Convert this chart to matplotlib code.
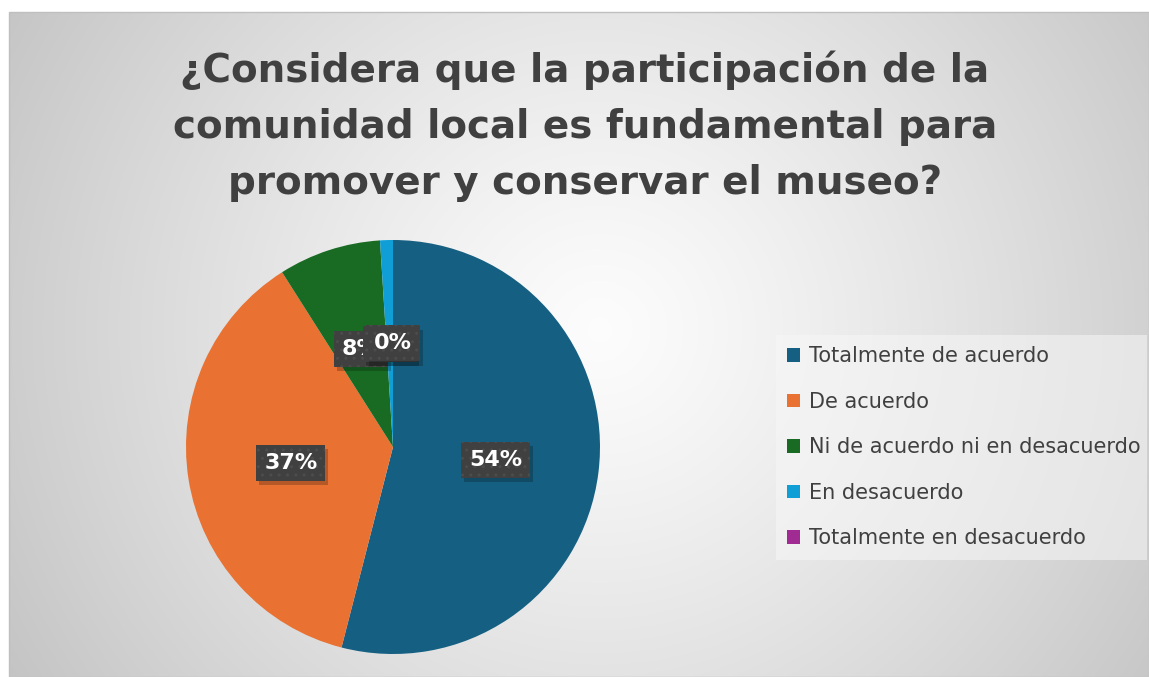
import numpy as np
import matplotlib
matplotlib.use("Agg")
import matplotlib.pyplot as plt
from matplotlib.patches import Patch, Rectangle
import matplotlib.patheffects as pe

categories = ["Totalmente de acuerdo", "De acuerdo", "Ni de acuerdo ni en desacuerdo",
              "En desacuerdo", "Totalmente en desacuerdo"]
percentages = [54, 37, 8, 1, 0]
colors = ["#156082", "#E97132", "#196B24", "#0F9ED5", "#A02B93"]
title = "¿Considera que la participación de la\ncomunidad local es fundamental para\npromover y conservar el museo?"


class NoHatchShadow(pe.SimplePatchShadow):
    def draw_path(self, renderer, gc, tpath, affine, rgbFace):
        h = gc.get_hatch()
        gc.set_hatch(None)
        super().draw_path(renderer, gc, tpath, affine, rgbFace)
        gc.set_hatch(h)


W, H = 1149, 677
fig = plt.figure(figsize=(W / 100, H / 100), dpi=100)
fig.patch.set_facecolor("white")

# background radial gradient panel
bg = fig.add_axes([0, 0, 1, 1])
bg.set_xlim(0, W)
bg.set_ylim(H, 0)
bg.axis("off")
x0, x1, y0, y1 = 9, 1149, 12, 677
xx, yy = np.meshgrid(np.linspace(x0, x1, 400), np.linspace(y0, y1, 240))
cx, cy = 600, 330
d = np.sqrt(((xx - cx) / (x1 - x0) * 1.0) ** 2 + ((yy - cy) / (y1 - y0) * 0.6) ** 2)
d = d / d.max()
v = 0.99 - 0.22 * d ** 1.2
img = np.dstack([v, v, v])
bg.imshow(img, extent=[x0, x1, y1, y0], aspect="auto", interpolation="bilinear", zorder=0)
bg.add_patch(Rectangle((x0, y0), x1 - x0, y1 - y0, fill=False, edgecolor="#bfbfbf", lw=1.0, zorder=1))

fig.text(585 / W, 1 - 126 / H, title, ha="center", va="center", fontsize=28,
         fontweight="bold", color="#404040", family="DejaVu Sans", linespacing=1.6)

# pie
R, pcx, pcy = 207, 393, 447
ax = fig.add_axes([(pcx - R) / W, (H - pcy - R) / H, 2 * R / W, 2 * R / H])
wedges, _ = ax.pie(percentages, colors=colors, startangle=90, counterclock=False,
                   radius=1.0, wedgeprops=dict(linewidth=0))
ax.set_xlim(-1, 1)
ax.set_ylim(-1, 1)
ax.set_facecolor("none")

total = float(sum(percentages))
start = 90.0
for p, w in zip(percentages, wedges):
    sweep = 360.0 * p / total
    mid = np.deg2rad(start - sweep / 2)
    start -= sweep
    r = 0.5
    tx, ty = r * np.cos(mid), r * np.sin(mid)
    t = ax.text(tx, ty, f"{round(p)}%", ha="center", va="center", fontsize=16,
                fontweight="bold", color="white", family="DejaVu Sans", zorder=5,
                bbox=dict(boxstyle="square,pad=0.36", facecolor="#404040", edgecolor="#4c4c4c",
                          linewidth=0, hatch=".."))
    t.get_bbox_patch().set_path_effects([NoHatchShadow(offset=(2, -3), alpha=0.22,
                                                       shadow_rgbFace="black"),
                                         pe.Normal()])

handles = [Patch(facecolor=c, edgecolor="none") for c in colors]
leg = fig.legend(handles, categories, loc="upper left",
                 bbox_to_anchor=(776 / W, 1 - 562 / H, 371 / W, 227 / H),
                 mode="expand", prop=dict(family="DejaVu Sans", size=15),
                 labelcolor="#404040", frameon=True, fancybox=False,
                 handlelength=0.62, handleheight=0.62, handletextpad=0.4,
                 labelspacing=1.22, borderpad=0.55, borderaxespad=0)
leg.get_frame().set_facecolor("#f7f7f7")
leg.get_frame().set_alpha(0.55)
leg.get_frame().set_edgecolor("none")

fig.savefig("out.png", dpi=100, facecolor="white")
